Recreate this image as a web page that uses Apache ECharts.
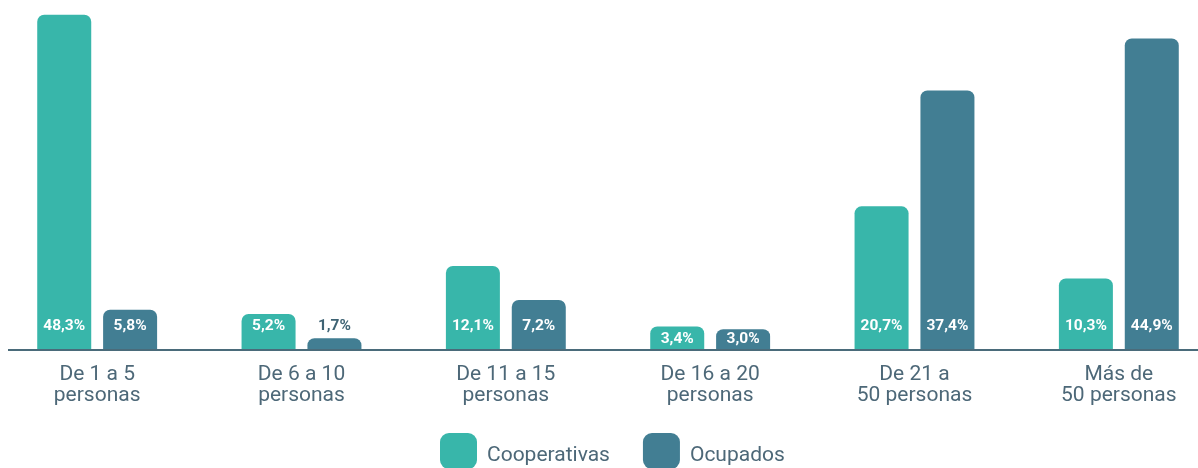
<!DOCTYPE html>
<html>
<head>
<meta charset="utf-8">
<script src="https://cdn.jsdelivr.net/npm/echarts@6/dist/echarts.min.js"></script>
<style>
  html, body { margin: 0; padding: 0; background: #ffffff; overflow: hidden; width: 1198px; height: 468px; }
  /* plot area runs slightly past the page edges on both sides */
  #chart { position: absolute; left: -5px; top: 0; width: 1226px; height: 468px; }
</style>
</head>
<body>
<div id="chart"></div>
<script>
// Tamaño de empresa (número de personas)
const categories = [
  'De 1 a 5\npersonas',
  'De 6 a 10\npersonas',
  'De 11 a 15\npersonas',
  'De 16 a 20\npersonas',
  'De 21 a\n50 personas',
  'Más de\n50 personas'
];
const cooperativas = [48.3, 5.2, 12.1, 3.4, 20.7, 10.3];
const ocupados = [5.8, 1.7, 7.2, 3.0, 37.4, 44.9];

const TEAL = '#38b6aa';
const BLUE = '#427e93';
const TEXT = '#4d6878';
const FONT = 'Roboto, "Noto Sans", sans-serif';
const SHIFT = 5; // chart canvas starts 5px left of the page

const fmt = v => v.toFixed(1).replace('.', ',') + '%';

// Very short bars: label sits above in a dark colour;
// short bars: label drops lower so it stays inside the bar
function toItems(values) {
  return values.map(v => {
    let label;
    if (v < 3) label = { color: '#3e6374' };
    else if (v < 4) label = { distance: 3 };
    return { value: v, label: label };
  });
}

function barSeries(name, values, color) {
  return {
    name: name,
    type: 'bar',
    barWidth: 54,
    barGap: '22%',
    data: toItems(values),
    itemStyle: { color: color, borderRadius: [7, 7, 0, 0] },
    label: {
      show: true,
      position: 'insideBottom',
      distance: 16,
      color: '#ffffff',
      fontFamily: FONT,
      fontWeight: 'bold',
      fontSize: 15.5,
      formatter: p => fmt(p.value)
    }
  };
}

const chart = echarts.init(document.getElementById('chart'));
chart.setOption({
  animation: false,
  backgroundColor: '#ffffff',
  textStyle: { fontFamily: FONT },
  grid: { left: 0, right: 0, top: 3, height: 347, containLabel: false },
  legend: {
    data: ['Cooperativas', 'Ocupados'],
    left: 440 + SHIFT,
    top: 433,
    padding: 0,
    icon: 'roundRect',
    itemWidth: 37,
    itemHeight: 36,
    itemGap: 33,
    formatter: name => '{t|' + name + '}',
    textStyle: {
      color: TEXT,
      fontSize: 21,
      fontFamily: FONT,
      padding: [0, 0, 0, 5],
      rich: { t: { color: TEXT, fontSize: 21, fontFamily: FONT, padding: [10, 0, 0, 0] } }
    }
  },
  xAxis: {
    type: 'category',
    data: categories,
    axisLine: { show: false },
    axisTick: { show: false },
    axisLabel: {
      color: TEXT,
      fontSize: 21,
      lineHeight: 21,
      margin: 14,
      fontFamily: FONT,
      interval: 0
    }
  },
  yAxis: {
    type: 'value',
    min: 0,
    max: 50,
    show: false,
    splitLine: { show: false }
  },
  series: [
    barSeries('Cooperativas', cooperativas, TEAL),
    barSeries('Ocupados', ocupados, BLUE)
  ]
});

// Baseline drawn across the plot at y = 0
const baseY = chart.convertToPixel({ yAxisIndex: 0 }, 0);
chart.setOption({
  graphic: [{
    type: 'line',
    z: 10,
    shape: { x1: 8 + SHIFT, y1: baseY, x2: 1198 + SHIFT, y2: baseY },
    style: { stroke: '#4a6b7a', lineWidth: 2 }
  }]
});
</script>
</body>
</html>
